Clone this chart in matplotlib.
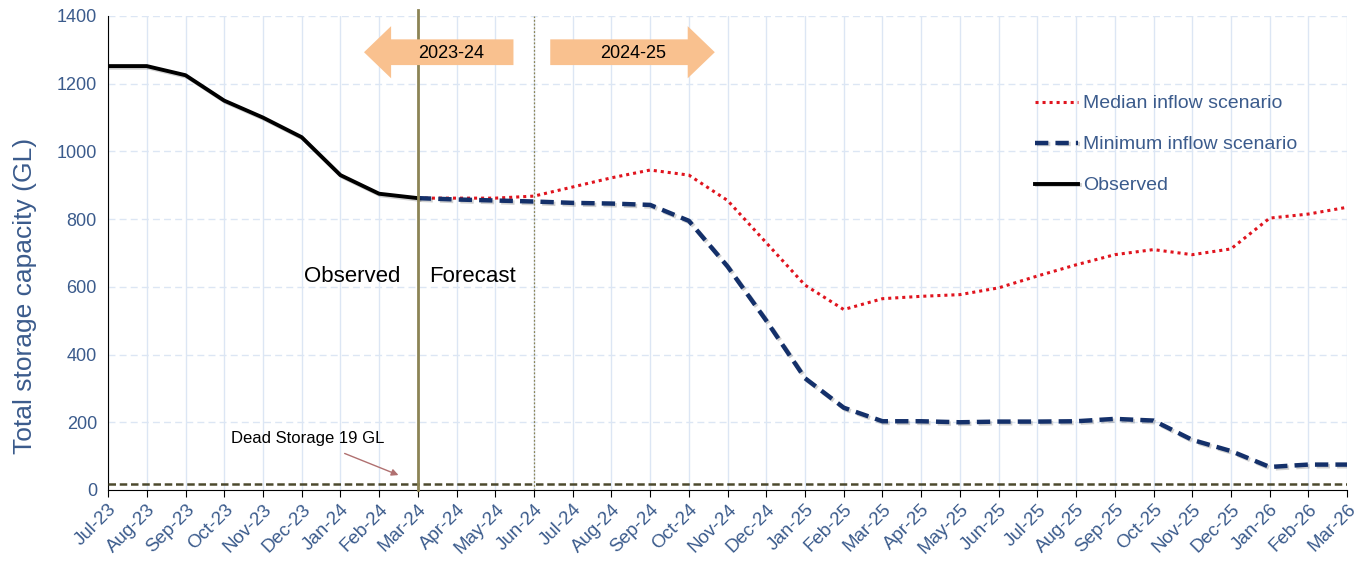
import numpy as np
import matplotlib.pyplot as plt
import matplotlib.patheffects as pe
import matplotlib.transforms as mtransforms
from matplotlib.patches import FancyArrow

plt.rcParams['font.family'] = ['Liberation Sans', 'DejaVu Sans']

# mois (Jul-23 .. Mar-26)
months = ['Jul-23', 'Aug-23', 'Sep-23', 'Oct-23', 'Nov-23', 'Dec-23', 'Jan-24', 'Feb-24',
          'Mar-24', 'Apr-24', 'May-24', 'Jun-24', 'Jul-24', 'Aug-24', 'Sep-24', 'Oct-24',
          'Nov-24', 'Dec-24', 'Jan-25', 'Feb-25', 'Mar-25', 'Apr-25', 'May-25', 'Jun-25',
          'Jul-25', 'Aug-25', 'Sep-25', 'Oct-25', 'Nov-25', 'Dec-25', 'Jan-26', 'Feb-26',
          'Mar-26']

# observé (Jul-23 .. Mar-24) [GL]
observed = [1252, 1252, 1225, 1150, 1100, 1042, 930, 875, 862]

# prévisions (Mar-24 .. Mar-26) [GL]
median = [862, 862, 862, 868, 895, 922, 945, 930, 855, 730, 605, 533, 565, 572, 577,
          597, 632, 665, 695, 710, 695, 712, 803, 815, 835]
minimum = [862, 858, 855, 852, 848, 846, 842, 795, 660, 500, 330, 243, 203, 203, 200,
           202, 202, 203, 210, 205, 148, 115, 68, 75, 75]

dead_storage = 19
i_forecast = months.index('Mar-24')
i_year = months.index('Jun-24')

x = np.arange(len(months))
x_obs = x[:len(observed)]
x_fc = x[i_forecast:i_forecast + len(median)]

txt_blue = '#3B5B8C'
olive = '#8C8455'
shadow = [pe.SimpleLineShadow(offset=(1.2, -1.2), alpha=0.18), pe.Normal()]

fig = plt.figure(figsize=(13.61, 5.63), dpi=100)
ax = fig.add_axes([0.0794, 0.1297, 0.9104, 0.8419])

# grelha
for xi in x:
    ax.axvline(xi, color='#DCE6F4', lw=1.0, zorder=0)
for yi in range(200, 1401, 200):
    ax.axhline(yi, color='#DCE6F4', lw=1.0, ls=(0, (5, 3)), zorder=0)

# linhas
ax.plot(x_fc, median, color='#E0141E', ls=(0, (1, 1.3)), lw=2.2, zorder=4,
        label='Median inflow scenario')
ax.plot(x_fc, minimum, color='#14306A', ls=(0, (3, 1.6)), lw=3.2, zorder=4,
        label='Minimum inflow scenario', path_effects=shadow)
ax.plot(x_obs, observed, color='black', lw=2.8, zorder=5, label='Observed',
        path_effects=shadow)

ax.axhline(dead_storage, color='#4D4A2E', ls=(0, (3, 1.5)), lw=1.8, zorder=3)
ax.axvline(i_forecast, ymin=0, ymax=1.013, color=olive, lw=2.0, zorder=6, clip_on=False)
ax.axvline(i_year, ymin=0, ymax=1.0, color=olive, lw=0.9, ls=(0, (1.5, 1.5)), zorder=6)

# setas dos anos
peach = '#F9C18F'
ax.add_patch(FancyArrow(10.47, 1293, -3.86, 0, width=76, head_width=154, head_length=0.7,
                        length_includes_head=True, color=peach, lw=0, zorder=7))
ax.add_patch(FancyArrow(11.42, 1293, 4.25, 0, width=76, head_width=154, head_length=0.7,
                        length_includes_head=True, color=peach, lw=0, zorder=7))
ax.text(8.85, 1290, '2023-24', ha='center', va='center', fontsize=13, zorder=8)
ax.text(13.55, 1290, '2024-25', ha='center', va='center', fontsize=13, zorder=8)

ax.text(7.55, 632, 'Observed', ha='right', va='center', fontsize=16)
ax.text(8.28, 632, 'Forecast', ha='left', va='center', fontsize=16)

ax.annotate('Dead Storage 19 GL', xy=(7.5, 44), xytext=(5.15, 152),
            ha='center', va='center', fontsize=12,
            arrowprops=dict(arrowstyle='-|>', color='#B07070', lw=1.0,
                            shrinkA=9, shrinkB=0, mutation_scale=10))

ax.set_xlim(0, len(months) - 1)
ax.set_ylim(0, 1400)
ax.set_xticks(x)
ax.set_xticklabels(months, rotation=45, ha='right', va='top', rotation_mode='anchor',
                   fontsize=13.5, color=txt_blue)
shift = mtransforms.ScaledTranslation(-0.11, -0.05, fig.dpi_scale_trans)
for lab in ax.get_xticklabels():
    lab.set_transform(lab.get_transform() + shift)
ax.set_yticks(range(0, 1401, 200))
ax.tick_params(axis='y', length=0, labelsize=13, labelcolor=txt_blue, pad=8)
ax.tick_params(axis='x', length=5, direction='out', pad=3)
ax.set_ylabel('Total storage capacity (GL)', fontsize=19, color=txt_blue)
ax.yaxis.set_label_coords(-0.057, 0.41)

for s in ['top', 'right']:
    ax.spines[s].set_visible(False)
ax.spines['left'].set_color('black')
ax.spines['bottom'].set_color('black')

leg = ax.legend(loc='upper left', bbox_to_anchor=(0.742, 0.85), frameon=False,
                fontsize=14, labelspacing=1.2, handlelength=2.2, handletextpad=0.25,
                borderaxespad=0)
for t in leg.get_texts():
    t.set_color(txt_blue)

plt.savefig('out.png', dpi=100)
